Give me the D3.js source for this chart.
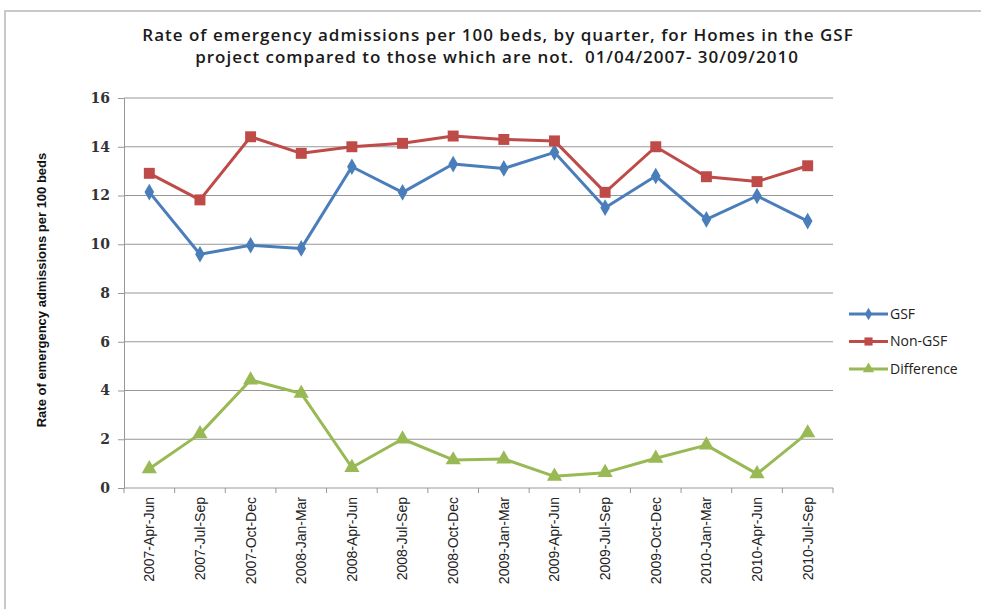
<!DOCTYPE html>
<html><head><meta charset="utf-8">
<script src="https://cdn.jsdelivr.net/npm/d3@7"></script>
<style>body{margin:0;background:#fff;} svg{display:block;}</style>
</head><body>
<script>
const categories = ["2007-Apr-Jun","2007-Jul-Sep","2007-Oct-Dec","2008-Jan-Mar","2008-Apr-Jun","2008-Jul-Sep","2008-Oct-Dec","2009-Jan-Mar","2009-Apr-Jun","2009-Jul-Sep","2009-Oct-Dec","2010-Jan-Mar","2010-Apr-Jun","2010-Jul-Sep"];
const gsf = [12.14,9.59,9.96,9.83,13.18,12.13,13.29,13.11,13.77,11.50,12.80,11.02,11.98,10.95];
const nonGsf = [12.91,11.82,14.41,13.73,14.00,14.14,14.44,14.30,14.24,12.13,14.00,12.77,12.57,13.22];
const difference = [0.79,2.22,4.43,3.88,0.84,2.01,1.15,1.19,0.48,0.63,1.22,1.76,0.58,2.26];
const yTicks = [0,2,4,6,8,10,12,14,16];
const seriesNames = ["GSF","Non-GSF","Difference"];

(function(){
const W = 981, H = 609;
const svg = d3.select("body").append("svg").attr("width", W).attr("height", H);

// frame
svg.append("rect").attr("x",5).attr("y",11).attr("width",W+10).attr("height",H+10)
  .attr("fill","#fff").attr("stroke","#c9c9c9").attr("stroke-width",2);

const pL = 124, pR = 833, pT = 98, pB = 488;
const x = d3.scaleBand().domain(categories).range([pL, pR]);
const y = d3.scaleLinear().domain([0,16]).range([pB, pT]);

// title
const title = svg.append("text").attr("text-anchor","middle")
  .attr("font-family","Open Sans, sans-serif").attr("font-weight","600")
  .attr("font-size",17).attr("letter-spacing",1.0).attr("fill","#1a1a1a")
  .style("white-space","pre");
title.append("tspan").attr("x",498).attr("y",41).text("Rate of emergency admissions per 100 beds, by quarter, for Homes in the GSF");
title.append("tspan").attr("x",497).attr("y",63).text("project compared to those which are not.  01/04/2007- 30/09/2010");

// gridlines
svg.append("g").selectAll("line").data(yTicks.filter(d=>d>0)).join("line")
  .attr("x1",pL).attr("x2",pR).attr("y1",d=>y(d)).attr("y2",d=>y(d))
  .attr("stroke","#979797").attr("stroke-width",1);

// y axis
const yAxis = svg.append("g").attr("transform",`translate(${pL},0)`)
  .call(d3.axisLeft(y).tickValues(yTicks).tickSize(6).tickPadding(8).tickFormat(d3.format("d")));
yAxis.select(".domain").attr("stroke","#979797");
yAxis.selectAll(".tick line").attr("stroke","#979797");
yAxis.selectAll("text").attr("font-family","DejaVu Serif, Liberation Serif, serif").attr("font-weight","bold")
  .attr("font-size",14).attr("fill","#333");

// x axis
const xAxis = svg.append("g").attr("transform",`translate(0,${pB})`)
  .call(d3.axisBottom(x).tickSize(0).tickPadding(0));
xAxis.select(".domain").attr("stroke","#979797").attr("d",`M${pL},0H${pR}`);
xAxis.selectAll(".tick text")
  .attr("transform","rotate(-90)").attr("text-anchor","end")
  .attr("x",-9).attr("y",0).attr("dy","0.35em")
  .attr("font-family","Liberation Sans Narrow, Arial Narrow, sans-serif")
  .attr("font-size",14).attr("fill","#222");
const bounds = categories.map(c=>x(c)).concat([pR]);
xAxis.append("g").selectAll("line").data(bounds).join("line")
  .attr("x1",d=>d).attr("x2",d=>d).attr("y1",0).attr("y2",5).attr("stroke","#979797");

// y axis title
svg.append("text").attr("transform","translate(46,290) rotate(-90)")
  .attr("text-anchor","middle").attr("font-family","Liberation Sans Narrow, Arial Narrow, sans-serif")
  .attr("font-weight","bold").attr("font-size",13).attr("fill","#111")
  .text("Rate of emergency admissions per 100 beds");

const cx = c => x(c) + x.bandwidth()/2;
const series = [
  {name:seriesNames[0], values:gsf, color:"#4a7ebb", sym:d3.symbolDiamond, size:80},
  {name:seriesNames[1], values:nonGsf, color:"#be4b48", sym:d3.symbolSquare, size:120},
  {name:seriesNames[2], values:difference, color:"#98b954", sym:d3.symbolTriangle, size:100}
];
const line = d3.line().x((d,i)=>cx(categories[i])).y(d=>y(d));
series.forEach(s=>{
  svg.append("path").datum(s.values).attr("d",line).attr("fill","none")
    .attr("stroke",s.color).attr("stroke-width",3).attr("stroke-linejoin","round");
  svg.append("g").selectAll("path").data(s.values).join("path")
    .attr("transform",(d,i)=>`translate(${cx(categories[i])},${y(d)})`)
    .attr("d",d3.symbol().type(s.sym).size(s.size)).attr("fill",s.color);
});

// legend
const lg = svg.append("g");
series.forEach((s,i)=>{
  const ly = 314 + i*27.5;
  lg.append("line").attr("x1",849).attr("x2",888).attr("y1",ly).attr("y2",ly)
    .attr("stroke",s.color).attr("stroke-width",3);
  lg.append("path").attr("transform",`translate(868.5,${ly})`)
    .attr("d",d3.symbol().type(s.sym).size(s.size*0.55)).attr("fill",s.color);
  lg.append("text").attr("x",890).attr("y",ly).attr("dy","0.35em")
    .attr("font-family","Open Sans, sans-serif").attr("font-size",14).attr("fill","#222").text(s.name);
});
})();
</script>
</body></html>
